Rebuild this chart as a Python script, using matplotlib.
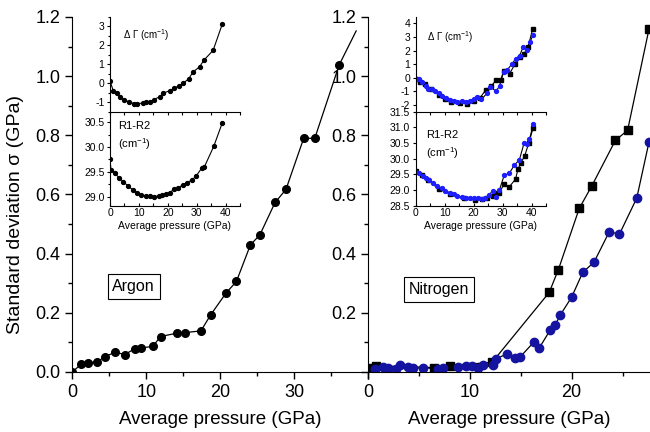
import matplotlib
matplotlib.use("Agg")
import matplotlib.pyplot as plt
from matplotlib.ticker import MultipleLocator, FormatStrFormatter

plt.rcParams["font.family"] = ["Liberation Sans", "DejaVu Sans"]
plt.rcParams["mathtext.fontset"] = "custom"
plt.rcParams["mathtext.rm"] = "Liberation Sans"
plt.rcParams["mathtext.default"] = "regular"

# ---- main panels ----
# argon: standard deviation vs average pressure (last point only carries the line)
argon_p = [0.0, 1.18, 2.17, 3.34, 4.42, 5.82, 7.08, 8.43, 9.33, 10.9, 11.94, 14.1,
           15.19, 17.4, 18.74, 20.8, 22.2, 24.1, 25.36, 27.43, 28.9, 31.3, 32.8, 36.1, 38.4]
argon_sd = [0.0, 0.026, 0.032, 0.034, 0.052, 0.067, 0.059, 0.078, 0.081, 0.087, 0.12, 0.131,
            0.133, 0.139, 0.194, 0.267, 0.306, 0.43, 0.463, 0.573, 0.617, 0.79, 0.79, 1.038, 1.153]

# nitrogen, two runs
n2_sq_p = [0.26, 0.79, 6.5, 8.1, 12.2, 17.8, 18.7, 20.75, 22.0, 24.3, 25.5, 27.6]
n2_sq_sd = [0.012, 0.021, 0.015, 0.021, 0.033, 0.269, 0.346, 0.553, 0.63, 0.783, 0.817, 1.159]

n2_ci_p = [0.69, 1.5, 2.0, 2.75, 3.15, 3.9, 4.45, 5.44, 6.85, 7.4, 8.8, 9.6, 10.26, 10.85,
           11.28, 12.3, 12.6, 13.65, 14.45, 14.95, 16.26, 16.8, 17.9, 18.4, 18.86, 20.0,
           21.1, 22.2, 23.7, 24.7, 26.4, 27.6]
n2_ci_sd = [0.01, 0.018, 0.012, 0.009, 0.024, 0.018, 0.012, 0.015, 0.01, 0.012, 0.018, 0.02,
            0.021, 0.012, 0.024, 0.024, 0.044, 0.062, 0.049, 0.051, 0.1, 0.08, 0.142, 0.159,
            0.191, 0.253, 0.337, 0.371, 0.474, 0.466, 0.588, 0.777]

# ---- insets ----
ar_in_p = [0.0, 1.15, 2.3, 3.45, 4.9, 6.67, 8.4, 9.4, 11.3, 12.6, 14.0, 15.2, 17.3, 18.5,
           20.6, 22.3, 23.9, 25.3, 27.2, 28.7, 31.0, 32.5, 35.7, 38.9]
ar_dgamma = [0.1, -0.39, -0.52, -0.70, -0.87, -0.99, -1.08, -1.07, -1.05, -0.98, -0.99, -0.86,
             -0.70, -0.52, -0.39, -0.26, -0.12, 0.0, 0.23, 0.59, 0.87, 1.22, 1.74, 3.14]

ar_r_p = [0.0, 0.34, 1.72, 3.1, 4.6, 6.1, 7.8, 9.2, 10.9, 12.3, 13.8, 15.3, 16.9, 18.0, 19.3,
          20.7, 22.2, 23.7, 25.1, 26.7, 28.5, 29.9, 31.7, 32.6, 35.9, 38.9]
ar_r12 = [29.75, 29.54, 29.47, 29.38, 29.30, 29.22, 29.14, 29.08, 29.03, 29.02, 29.01, 29.0,
          29.01, 29.03, 29.05, 29.08, 29.15, 29.17, 29.24, 29.28, 29.34, 29.42, 29.57, 29.59,
          30.01, 30.49]

n2k_g_p = [0.0, 1.5, 3.2, 5.3, 7.9, 10.2, 12.3, 15.4, 17.7, 20.2, 22.1, 24.3, 26.1, 27.8,
           29.3, 30.4, 32.4, 34.2, 36.0, 37.4, 38.8, 40.4]
n2k_dgamma = [-0.08, -0.33, -0.45, -0.82, -1.26, -1.56, -1.8, -1.85, -1.92, -1.68, -1.51,
              -0.87, -0.62, -0.15, -0.2, 0.53, 0.29, 0.98, 1.52, 1.77, 2.26, 3.61]

n2b_g_p = [0.35, 1.15, 2.07, 3.6, 4.4, 5.8, 6.7, 7.9, 9.2, 10.4, 11.9, 13.1, 14.4, 16.0,
           17.4, 18.6, 20.0, 21.2, 22.7, 24.6, 25.8, 27.8, 29.0, 30.4, 31.6, 33.3, 34.5,
           35.9, 37.1, 38.5, 39.5, 40.5]
n2b_dgamma = [-0.08, -0.1, -0.33, -0.57, -0.82, -0.82, -0.94, -1.11, -1.38, -1.51, -1.63,
              -1.68, -1.75, -1.73, -1.8, -1.68, -1.56, -1.43, -1.6, -1.14, -0.7, -0.99,
              -0.57, 0.46, 0.58, 1.03, 1.4, 1.64, 2.26, 2.06, 2.62, 3.17]

n2k_r_p = [0.1, 2.1, 4.4, 7.9, 11.9, 16.6, 20.6, 22.9, 24.6, 26.6, 27.8, 28.9, 30.4, 32.3,
           34.5, 35.3, 36.2, 37.6, 39.1, 40.5]
n2k_r12 = [29.6, 29.48, 29.32, 29.03, 28.87, 28.73, 28.68, 28.71, 28.76, 28.81, 28.91, 28.91,
           29.18, 29.1, 29.35, 29.66, 29.85, 30.08, 30.51, 30.97]

n2b_r_p = [0.1, 1.3, 2.4, 3.6, 4.7, 6.1, 7.5, 9.0, 10.2, 11.7, 13.1, 14.4, 16.0, 17.4, 18.9,
           20.3, 21.4, 22.9, 24.1, 25.2, 26.6, 27.8, 28.9, 30.6, 32.3, 34.1, 35.8, 37.4,
           38.5, 39.3, 40.6]
n2b_r12 = [29.58, 29.53, 29.45, 29.39, 29.32, 29.21, 29.12, 29.05, 28.97, 28.92, 28.86,
           28.81, 28.78, 28.73, 28.73, 28.75, 28.75, 28.71, 28.76, 28.84, 28.97, 28.78, 29.0,
           29.48, 29.53, 29.8, 29.96, 30.49, 30.46, 30.62, 31.1]

navy = "#1414a0"
blue = "#1e1eff"

W, H = 650, 432


def rect(x0, y0, x1, y1):
    # pixel box (top-left origin) -> figure fraction
    return [x0 / W, 1 - y1 / H, (x1 - x0) / W, (y1 - y0) / H]


def style_main(ax):
    ax.spines["top"].set_visible(False)
    ax.spines["right"].set_visible(False)
    ax.xaxis.set_minor_locator(MultipleLocator(5))
    ax.yaxis.set_major_locator(MultipleLocator(0.2))
    ax.yaxis.set_minor_locator(MultipleLocator(0.1))
    ax.tick_params(which="major", direction="out", length=5, width=1, labelsize=13)
    ax.tick_params(which="minor", direction="out", length=3, width=1)
    ax.set_ylim(0, 1.2)
    ax.set_xlabel("Average pressure (GPa)", fontsize=13.5, labelpad=7)


def style_inset(ax, ylim, ystep, fmt, bottom):
    ax.spines["top"].set_visible(False)
    ax.spines["right"].set_visible(False)
    ax.set_facecolor("none")
    ax.set_xlim(0, 45)
    ax.set_ylim(*ylim)
    ax.xaxis.set_major_locator(MultipleLocator(10))
    ax.xaxis.set_minor_locator(MultipleLocator(5))
    ax.yaxis.set_major_locator(MultipleLocator(ystep))
    ax.yaxis.set_minor_locator(MultipleLocator(ystep / 2))
    ax.yaxis.set_major_formatter(FormatStrFormatter(fmt))
    ax.tick_params(axis="y", which="major", direction="out", length=2.5, width=0.8,
                   labelsize=7.5, pad=1.5)
    ax.tick_params(axis="y", which="minor", direction="out", length=1.5, width=0.8)
    ax.tick_params(axis="x", which="both", direction="in" if bottom else "out",
                   length=2.5, width=0.8, labelsize=7.5, pad=1.5)
    if bottom:
        ax.set_xlabel("Average pressure (GPa)", fontsize=7.5, labelpad=2)
    else:
        ax.tick_params(axis="x", labelbottom=False)


fig = plt.figure(figsize=(6.5, 4.32), dpi=100)

# left main: argon
ax1 = fig.add_axes(rect(72.3, 17, 368, 372))
ax1.plot(argon_p, argon_sd, color="black", lw=0.9, marker="o", ms=5.5,
         markevery=list(range(len(argon_p) - 1)))
style_main(ax1)
ax1.set_xlim(0, 40)
ax1.set_xticks([0, 10, 20, 30, 40], ["0", "10", "20", "30", ""])
ax1.yaxis.set_major_formatter(FormatStrFormatter("%.1f"))
ax1.set_ylabel("Standard deviation σ (GPa)", fontsize=14)
ax1.yaxis.set_label_coords(-0.165, 0.445)
ax1.text(8.3, 0.29, "Argon", fontsize=11.5, ha="center", va="center",
         bbox=dict(boxstyle="square,pad=0.3", fc="white", ec="black", lw=0.8))

# right main: nitrogen
ax2 = fig.add_axes(rect(368, 17, 650, 372))
ax2.set_facecolor("none")
ax2.plot(n2_sq_p, n2_sq_sd, color="black", lw=0.9, marker="s", ms=5.5)
ax2.plot(n2_ci_p, n2_ci_sd, color="black", lw=0.9, marker="o", ms=6,
         mfc=navy, mec=navy)
style_main(ax2)
ax2.set_xlim(0, 27.7)
ax2.xaxis.set_major_locator(MultipleLocator(10))
ax2.set_yticks([0, 0.2, 0.4, 0.6, 0.8, 1.0, 1.2],
               ["", "0.2", "0.4", "0.6", "0.8", "1.0", "1.2"])
ax2.text(7.0, 0.278, "Nitrogen", fontsize=11.5, ha="center", va="center",
         bbox=dict(boxstyle="square,pad=0.3", fc="white", ec="black", lw=0.8))

# argon insets
ia_top = fig.add_axes(rect(110, 17, 240, 111.7))
ia_top.plot(ar_in_p, ar_dgamma, color="black", lw=0.8, marker="o", ms=2.8)
style_inset(ia_top, (-1.5, 3.5), 1, "%g", False)
ia_top.text(0.1, 0.81, "Δ Γ (cm$^{-1}$)", transform=ia_top.transAxes, fontsize=7,
            va="center")

ia_bot = fig.add_axes(rect(110, 111.7, 240, 206))
ia_bot.plot(ar_r_p, ar_r12, color="black", lw=0.8, marker="o", ms=2.8)
style_inset(ia_bot, (28.81, 30.71), 0.5, "%.1f", True)
ia_bot.text(0.06, 0.9, "R1-R2\n(cm$^{-1}$)", transform=ia_bot.transAxes, fontsize=8,
            va="top", linespacing=1.4)

# nitrogen insets
in_top = fig.add_axes(rect(415.7, 16.7, 546, 111.7))
in_top.plot(n2k_g_p, n2k_dgamma, color="black", lw=0.8, marker="s", ms=2.3)
in_top.plot(n2b_g_p, n2b_dgamma, color="black", lw=0.8, marker="o", ms=2.8,
            mfc=blue, mec=blue)
style_inset(in_top, (-2.5, 4.5), 1, "%g", False)
in_top.yaxis.set_minor_locator(MultipleLocator(1))
in_top.text(0.085, 0.79, "Δ Γ (cm$^{-1}$)", transform=in_top.transAxes, fontsize=7,
            va="center")

in_bot = fig.add_axes(rect(415.7, 111.7, 546, 205.7))
in_bot.plot(n2k_r_p, n2k_r12, color="black", lw=0.8, marker="s", ms=2.3)
in_bot.plot(n2b_r_p, n2b_r12, color="black", lw=0.8, marker="o", ms=2.8,
            mfc=blue, mec=blue)
style_inset(in_bot, (28.5, 31.5), 0.5, "%.1f", True)
in_bot.yaxis.set_minor_locator(MultipleLocator(0.5))
in_bot.text(0.08, 0.8, "R1-R2\n(cm$^{-1}$)", transform=in_bot.transAxes, fontsize=8,
            va="top", linespacing=1.4)

fig.savefig("out.png", dpi=100)
